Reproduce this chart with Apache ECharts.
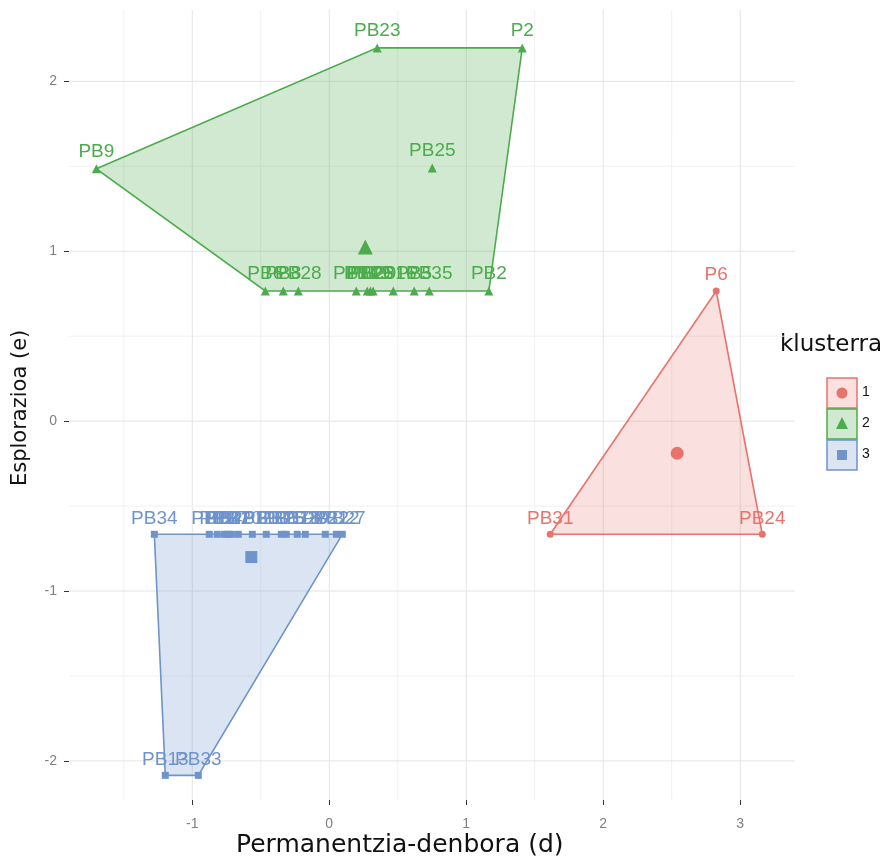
<!DOCTYPE html>
<html>
<head>
<meta charset="utf-8">
<title>klusterra</title>
<script src="https://cdn.jsdelivr.net/npm/echarts@6/dist/echarts.min.js"></script>
<style>
  html, body { margin: 0; padding: 0; background: #fff; }
  #main { width: 887px; height: 862px; }
</style>
</head>
<body>
<div id="main"></div>
<script>
// axis range and tick values
var xMin = -1.9, xMax = 3.4;
var yMin = -2.23, yMax = 2.42;
var xTicks = [-1, 0, 1, 2, 3];
var yTicks = [-2, -1, 0, 1, 2];
var xMinor = [-1.5, -0.5, 0.5, 1.5, 2.5];
var yMinor = [-1.5, -0.5, 0.5, 1.5];

// kluster 1
var names1 = ['P6', 'PB31', 'PB24'];
var x1 = [2.825, 1.613, 3.161];
var y1 = [0.766, -0.666, -0.666];
var hull1 = [0, 2, 1];
var centre1 = [2.54, -0.189];

// kluster 2
var names2 = ['PB9', 'PB23', 'P2', 'PB25', 'PB2', 'PB6', 'PB8', 'PB28', 'PB14', 'PB19', 'PB26', 'PB29', 'PB16', 'PB5', 'PB35'];
var x2 = [-1.70, 0.35, 1.409, 0.752, 1.165, -0.467, -0.336, -0.226, 0.197, 0.277, 0.300, 0.320, 0.467, 0.620, 0.730];
var y2 = [1.485, 2.197, 2.197, 1.49, 0.766, 0.766, 0.766, 0.766, 0.766, 0.766, 0.766, 0.766, 0.766, 0.766, 0.766];
var hull2 = [0, 1, 2, 4, 5];
var centre2 = [0.263, 1.025];

// kluster 3
var names3 = ['PB34', 'PB13', 'PB33', 'PB1', 'PB3', 'PB4', 'PB7', 'PB10', 'PB11', 'PB15', 'PB17', 'PB18', 'PB20', 'PB21', 'PB22', 'PB27', 'PB30', 'PB12'];
var x3 = [-1.277, -1.197, -0.956, -0.876, -0.818, -0.766, -0.715, -0.664, -0.562, -0.350, -0.314, -0.234, -0.175, -0.029, 0.051, 0.095, -0.460, -0.740];
var y3 = [-0.666, -2.085, -2.085, -0.666, -0.666, -0.666, -0.666, -0.666, -0.666, -0.666, -0.666, -0.666, -0.666, -0.666, -0.666, -0.666, -0.666, -0.666];
var hull3 = [0, 15, 2, 1];
var centre3 = [-0.569, -0.80];

var colors = ['#E8736C', '#4CAB4C', '#6F93CB'];
var fills = ['rgba(232,115,108,0.22)', 'rgba(76,171,76,0.26)', 'rgba(111,147,203,0.25)'];

function gridSeries(vals, vertical, color) {
  return {
    type: 'custom', silent: true, z: 0, clip: true,
    data: vals.map(function (v) { return vertical ? [v, yMin] : [xMin, v]; }),
    renderItem: function (params, api) {
      var v = vertical ? api.value(0) : api.value(1);
      var a = vertical ? api.coord([v, yMin]) : api.coord([xMin, v]);
      var b = vertical ? api.coord([v, yMax]) : api.coord([xMax, v]);
      return {
        type: 'line',
        shape: { x1: a[0], y1: a[1], x2: b[0], y2: b[1] },
        style: { stroke: color, lineWidth: 1 }
      };
    }
  };
}

function hullSeries(xs, ys, hull, k) {
  var pts = hull.map(function (i) { return [xs[i], ys[i]]; });
  return {
    type: 'custom', silent: true, z: 1,
    data: pts,
    renderItem: function (params, api) {
      if (params.dataIndex !== 0) return null;
      var poly = pts.map(function (p) { return api.coord(p); });
      return {
        type: 'polygon',
        shape: { points: poly },
        style: { fill: fills[k], stroke: colors[k], lineWidth: 1.6 }
      };
    }
  };
}

function pointSeries(names, xs, ys, k, symbol, size) {
  return {
    type: 'scatter', z: 3,
    symbol: symbol, symbolSize: size,
    itemStyle: { color: colors[k], opacity: 1 },
    label: {
      show: true, position: 'top', distance: 3,
      formatter: '{b}', color: colors[k],
      fontFamily: 'Liberation Sans', fontSize: 19
    },
    emphasis: { disabled: true },
    data: names.map(function (n, i) { return { name: n, value: [xs[i], ys[i]] }; })
  };
}

function centreSeries(c, k, symbol, size) {
  return {
    type: 'scatter', z: 3,
    symbol: symbol, symbolSize: size,
    itemStyle: { color: colors[k], opacity: 1 },
    emphasis: { disabled: true },
    data: [c]
  };
}

var chart = echarts.init(document.getElementById('main'));

var axisBase = {
  type: 'value',
  splitLine: { show: false },
  axisLine: { show: false, onZero: false },
  axisTick: { show: true, length: 5, lineStyle: { color: '#333', width: 1 } },
  axisLabel: { color: '#808080', fontSize: 14, fontFamily: 'Liberation Sans' }
};

// legend key drawing (one box per kluster)
var keyTop = [378, 409, 440];
var legendEls = [{
  type: 'text', left: 780, top: 334,
  style: { text: 'klusterra', fontFamily: 'DejaVu Sans', fontSize: 23, fill: '#111' }
}];
keyTop.forEach(function (t, k) {
  legendEls.push({
    type: 'rect', shape: { x: 827, y: t, width: 30, height: 30 },
    style: { fill: fills[k], stroke: colors[k], lineWidth: 1.5 }
  });
  legendEls.push({
    type: 'text', left: 862, top: t + 7,
    style: { text: String(k + 1), fontFamily: 'Liberation Sans', fontSize: 14, fill: '#111' }
  });
});
legendEls.push({ type: 'circle', shape: { cx: 842, cy: 393, r: 5.5 }, style: { fill: colors[0] } });
legendEls.push({ type: 'polygon', shape: { points: [[842, 417], [848, 429], [836, 429]] }, style: { fill: colors[1] } });
legendEls.push({ type: 'rect', shape: { x: 837, y: 450, width: 10, height: 10 }, style: { fill: colors[2] } });

legendEls.push({
  type: 'text', left: 236, top: 833,
  style: { text: 'Permanentzia-denbora (d)', fontFamily: 'DejaVu Sans', fontSize: 25, fill: '#111' }
});
legendEls.push({
  type: 'text', x: 10, y: 486, rotation: Math.PI / 2,
  style: { text: 'Esplorazioa (e)', fontFamily: 'DejaVu Sans', fontSize: 21, fill: '#111' }
});

var option = {
  backgroundColor: '#fff',
  animation: false,
  grid: { left: 69, top: 10, width: 726, height: 790 },
  xAxis: Object.assign({}, axisBase, {
    min: xMin, max: xMax,
    axisTick: Object.assign({}, axisBase.axisTick, { customValues: xTicks }),
    axisLabel: Object.assign({}, axisBase.axisLabel, { customValues: xTicks, margin: 17 })
  }),
  yAxis: Object.assign({}, axisBase, {
    min: yMin, max: yMax,
    axisTick: Object.assign({}, axisBase.axisTick, { customValues: yTicks }),
    axisLabel: Object.assign({}, axisBase.axisLabel, { customValues: yTicks, margin: 12 })
  }),
  graphic: legendEls,
  series: [
    gridSeries(xMinor, true, '#f1f1f1'),
    gridSeries(yMinor, false, '#f1f1f1'),
    gridSeries(xTicks, true, '#e4e4e4'),
    gridSeries(yTicks, false, '#e4e4e4'),
    hullSeries(x1, y1, hull1, 0),
    hullSeries(x2, y2, hull2, 1),
    hullSeries(x3, y3, hull3, 2),
    pointSeries(names1, x1, y1, 0, 'circle', 7),
    pointSeries(names2, x2, y2, 1, 'triangle', 9),
    pointSeries(names3, x3, y3, 2, 'rect', 7),
    centreSeries(centre1, 0, 'circle', 13),
    centreSeries(centre2, 1, 'triangle', 15),
    centreSeries(centre3, 2, 'rect', 12)
  ]
};
chart.setOption(option);
</script>
</body>
</html>
